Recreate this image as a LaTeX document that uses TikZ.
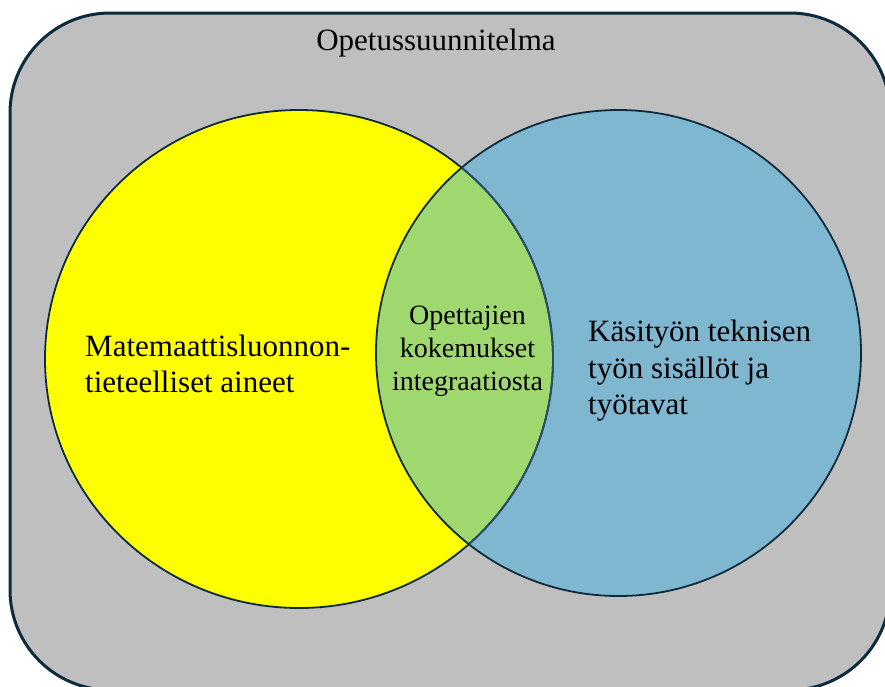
\documentclass[tikz,border=0pt]{standalone}
\usepackage{fontspec}
\setmainfont{Liberation Serif}
\usepackage{tikz}
\definecolor{frameline}{HTML}{0E2B3D}
\definecolor{framefill}{HTML}{BFBFBF}
\definecolor{mathfill}{HTML}{FFFF00}
\definecolor{craftfill}{HTML}{7FB6D0}
\definecolor{lensfill}{HTML}{A0D870}
\definecolor{lensarc}{HTML}{24506A}
\tikzstyle{curriculum}=[draw=frameline, fill=framefill, line width=3pt, rounded corners=100pt]
\tikzstyle{subject}=[draw=frameline, line width=1.8pt]
\tikzstyle{bigtext}=[inner sep=0pt, font=\fontsize{31}{36.5}\selectfont]
\tikzstyle{smalltext}=[inner sep=0pt, align=center, font=\fontsize{28}{33}\selectfont]

\begin{document}
\begin{tikzpicture}[x=1pt, y=-1pt]
        \useasboundingbox (0,0) rectangle (885,686);
        \draw[curriculum] (10,13) rectangle (890,690);
        \fill[mathfill] (299,359) ellipse [x radius=254, y radius=249];
        \fill[craftfill] (618.5,353) ellipse [x radius=242.5, y radius=243];
        \begin{scope}
            \clip (299,359) ellipse [x radius=254, y radius=249];
            \fill[lensfill] (618.5,353) ellipse [x radius=242.5, y radius=243];
        \end{scope}
        \draw[subject] (299,359) ellipse [x radius=254, y radius=249];
        \begin{scope}
            \clip (618.5,353) ellipse [x radius=242.5, y radius=243];
            \draw[subject, draw=lensarc] (299,359) ellipse [x radius=254, y radius=249];
        \end{scope}
        \draw[subject] (618.5,353) ellipse [x radius=242.5, y radius=243];
        \node[bigtext] (title) at (436,43) {Opetussuunnitelma};
        \node[bigtext, anchor=west, align=left] (math) at (85,364) {Matemaattisluonnon-\\tieteelliset aineet};
        \node[bigtext, anchor=west, align=left] (craft) at (588,371) {Käsityön teknisen\\työn sisällöt ja\\työtavat};
        \node[smalltext] (teachers) at (467.5,351) {Opettajien\\kokemukset\\integraatiosta};
    \end{tikzpicture}
\end{document}
